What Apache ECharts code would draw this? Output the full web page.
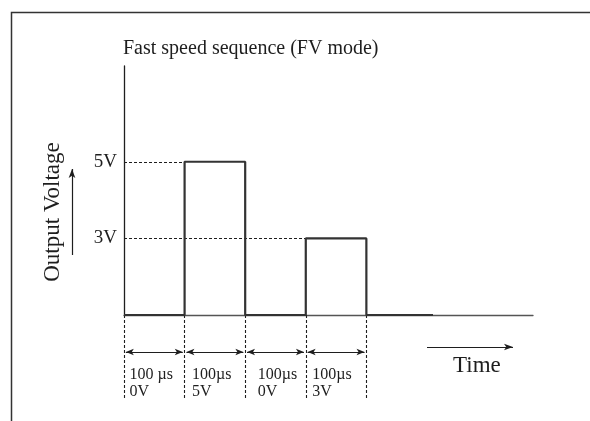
<!DOCTYPE html>
<html><head><meta charset="utf-8">
<script src="https://cdn.jsdelivr.net/npm/echarts@6/dist/echarts.min.js"></script>
<style>html,body{margin:0;padding:0;background:#fff}#c{width:590px;height:421px}</style>
</head><body><div id="c"></div>
<script>
// ---- data ----
const titleText = 'Fast speed sequence (FV mode)';
const yAxisTitle = 'Output Voltage';
const xAxisTitle = 'Time';
const voltageLevels = ['0V', '3V', '5V'];            // schematic levels, drawn evenly spaced as in the figure
const segmentStart = [0, 100, 200, 300, 400];        // µs
const segmentVoltage = ['0V', '5V', '0V', '3V', '0V'];
const traceEnd = 510;                                // µs, where the drawn trace stops
const segmentDurationLabel = ['100 µs', '100µs', '100µs', '100µs'];
const timeAxisMax = 675;
const levelAxisMax = 3.25;

// ---- styling ----
const FONT = '"Liberation Serif", "Times New Roman", serif';
const INK = '#1e1e1e';
const LABEL_DISTANCE = [5, 7, 12, 6];                // px gap between each boundary and its text

const level = v => voltageLevels.indexOf(v);
const trace = segmentStart.map((t, i) => [t, level(segmentVoltage[i])]);
trace.push([traceEnd, level(segmentVoltage[segmentVoltage.length - 1])]);

const guides = [];
segmentStart.forEach((t, i) => {
  const l = level(segmentVoltage[i]);
  if (l > 0) guides.push([{ coord: [0, l] }, { coord: [t, l] }]);
});

// lower annotation band (rows measured downward from the baseline, in px)
const ROW_DOTTED_END = 85, ROW_ARROW = 37, ROW_LABEL = 68.5;
const labeled = segmentDurationLabel.length;
const boundaries = segmentStart.slice(0, labeled + 1);
const verticals = boundaries.map(t => [{ coord: [t, 0] }, { coord: [t, ROW_DOTTED_END] }]);
const spans = [];
for (let i = 0; i < labeled; i++) {
  spans.push([{ coord: [boundaries[i] + 3, ROW_ARROW] }, { coord: [boundaries[i + 1] - 3, ROW_ARROW] }]);
}
const labelPts = segmentDurationLabel.map((d, i) => ({
  value: [boundaries[i], ROW_LABEL],
  label: { formatter: d + '\n' + segmentVoltage[i], distance: LABEL_DISTANCE[i] }
}));

const chart = echarts.init(document.getElementById('c'), null, { renderer: 'canvas' });
chart.setOption({
  animation: false,
  backgroundColor: '#fff',
  title: {
    text: titleText, left: 118, top: 34,
    textStyle: { fontFamily: FONT, fontSize: 20, fontWeight: 'normal', color: INK }
  },
  grid: [
    { left: 124, right: 57, top: 66, bottom: 106 },
    { left: 124, right: 57, top: 315, bottom: 0 }
  ],
  xAxis: [
    { type: 'value', gridIndex: 0, min: 0, max: timeAxisMax,
      axisLine: { show: true, lineStyle: { color: '#555', width: 1.3 } },
      axisTick: { show: false }, axisLabel: { show: false }, splitLine: { show: false } },
    { type: 'value', gridIndex: 1, min: 0, max: timeAxisMax, show: false }
  ],
  yAxis: [
    { type: 'value', gridIndex: 0, min: 0, max: levelAxisMax, interval: 1,
      axisLine: { show: true, lineStyle: { color: INK, width: 1.3 } },
      axisTick: { show: false }, splitLine: { show: false },
      axisLabel: {
        margin: 7, fontFamily: FONT, fontSize: 19, color: INK,
        formatter: v => (Number.isInteger(v) && v > 0 && v < voltageLevels.length) ? voltageLevels[v] : ''
      } },
    { type: 'value', gridIndex: 1, min: 0, max: 106, inverse: true, show: false }
  ],
  graphic: [
    { type: 'rect', shape: { x: 11.5, y: 12.5, width: 700, height: 500 },
      style: { fill: 'none', stroke: '#333', lineWidth: 1.5 }, silent: true },
    { type: 'text', x: 53, y: 212, rotation: Math.PI / 2,
      style: { text: yAxisTitle, font: '23px ' + FONT, fill: INK, align: 'center', verticalAlign: 'middle' } },
    { type: 'text', x: 453, y: 366,
      style: { text: xAxisTitle, font: '23px ' + FONT, fill: INK, align: 'left', verticalAlign: 'middle' } }
  ],
  series: [
    {
      type: 'line', xAxisIndex: 0, yAxisIndex: 0, data: trace, step: 'end',
      symbol: 'none', z: 5,
      lineStyle: { color: '#333', width: 2.2 },
      markLine: {
        silent: true, symbol: ['none', 'none'], label: { show: false },
        lineStyle: { color: INK, type: [3, 2], width: 1.1 },
        data: guides
      }
    },
    {
      type: 'scatter', xAxisIndex: 1, yAxisIndex: 1, data: labelPts,
      symbol: 'circle', symbolSize: 1, itemStyle: { color: INK, opacity: 0 }, silent: true,
      label: { show: true, position: 'right', fontFamily: FONT, fontSize: 16,
               lineHeight: 17, color: INK, opacity: 1, textBorderWidth: 0,
               align: 'left', verticalAlign: 'middle' },
      markLine: {
        silent: true, symbol: ['none', 'none'], label: { show: false },
        lineStyle: { color: INK, type: [3, 2], width: 1.1 },
        data: verticals
      }
    },
    {
      type: 'scatter', xAxisIndex: 1, yAxisIndex: 1, data: [], silent: true,
      markLine: {
        silent: true, symbol: ['arrow', 'arrow'], symbolSize: [5, 8], label: { show: false },
        lineStyle: { color: INK, type: 'solid', width: 1.2 },
        data: spans
      }
    },
    {
      type: 'scatter', xAxisIndex: 0, yAxisIndex: 0, data: [], silent: true,
      markLine: {
        silent: true, symbol: ['none', 'arrow'], symbolSize: [5, 9], label: { show: false },
        lineStyle: { color: INK, type: 'solid', width: 1.2 },
        data: [
          [{ x: 72, y: 255 }, { x: 72, y: 169 }],
          [{ x: 427, y: 347 }, { x: 513, y: 347 }]
        ]
      }
    }
  ]
});
</script></body></html>
